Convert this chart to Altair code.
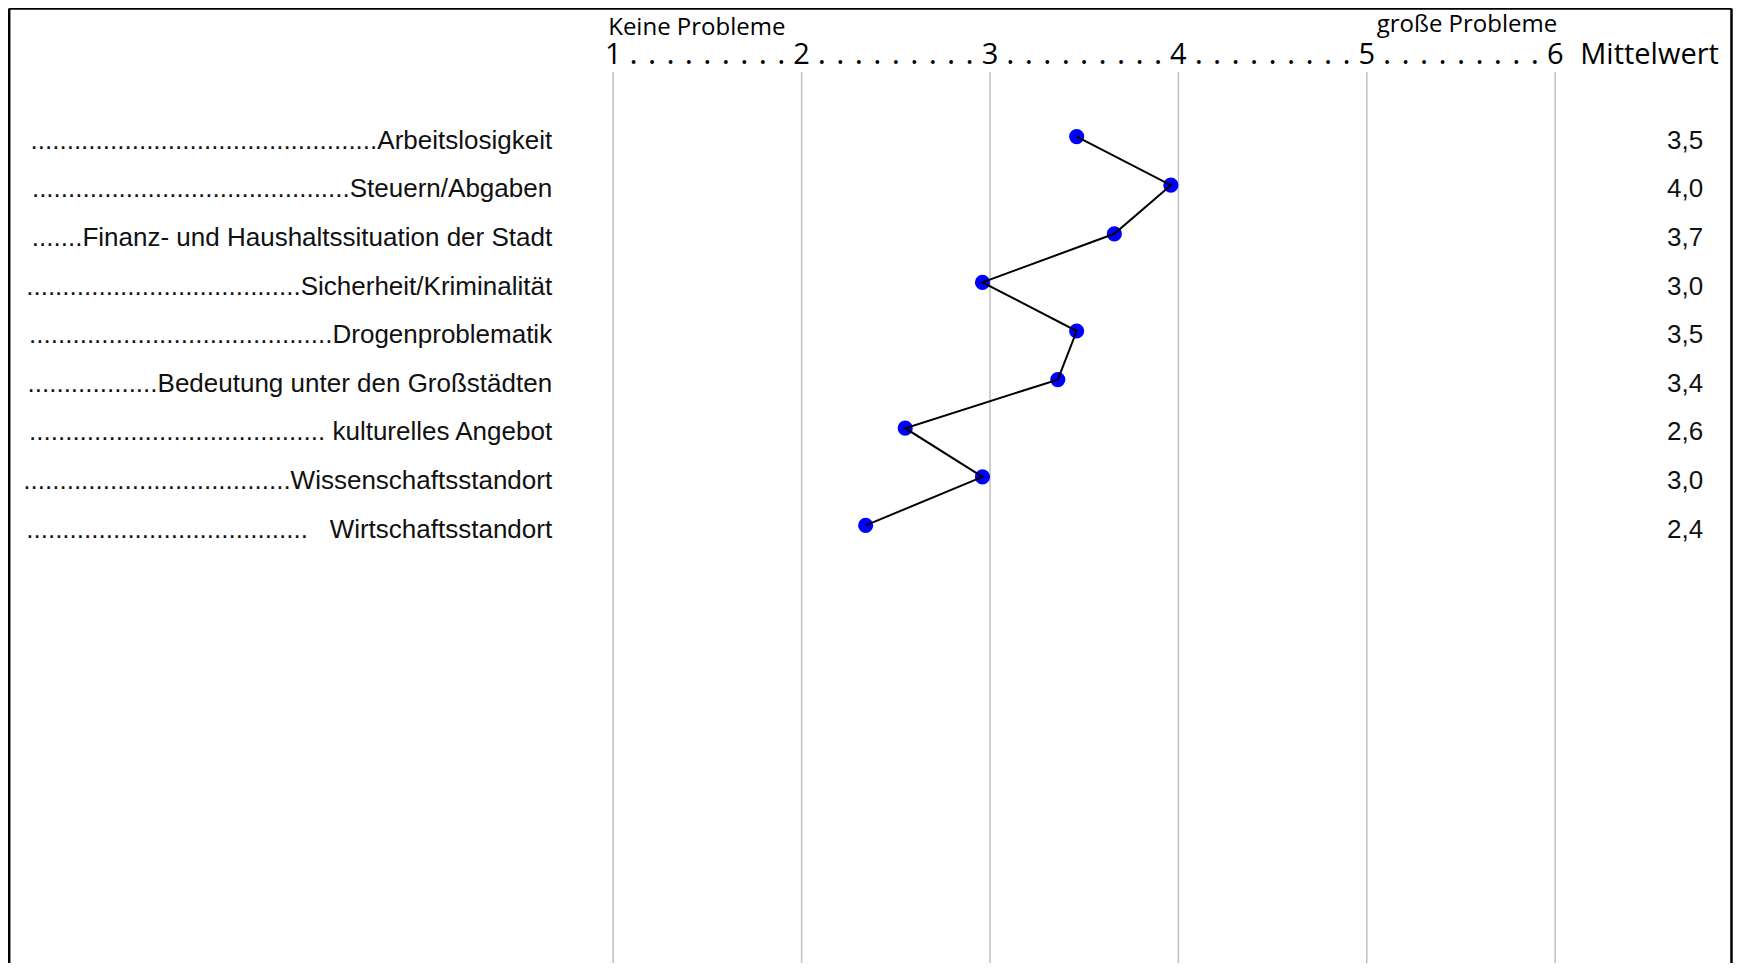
import altair as alt
import pandas as pd

# ---- data ----
kategorien = [
    "." * 48 + "Arbeitslosigkeit",
    "." * 44 + "Steuern/Abgaben",
    "." * 7 + "Finanz- und Haushaltssituation der Stadt",
    "." * 38 + "Sicherheit/Kriminalität",
    "." * 42 + "Drogenproblematik",
    "." * 18 + "Bedeutung unter den Großstädten",
    "." * 41 + " kulturelles Angebot",
    "." * 37 + "Wissenschaftsstandort",
    "." * 39 + "\u00a0\u00a0\u00a0Wirtschaftsstandort\u00a0",
]
mittelwerte = [3.46, 3.96, 3.66, 2.96, 3.46, 3.36, 2.55, 2.96, 2.34]
mittelwert_text = ["3,5", "4,0", "3,7", "3,0", "3,5", "3,4", "2,6", "3,0", "2,4"]

skala_werte = [1, 2, 3, 4, 5, 6]
skala_labels = ["1", "2", "3", "4", "5", "6"]
punkte_text = "\u2004".join(["."] * 9)
kopf_links = "Keine Probleme"
kopf_rechts = "große Probleme"
kopf_spalte = "Mittelwert"

# ---- layout constants (scale units) ----
X_DOM = [-2.2123, 6.9438]
Y_DOM = [-2.646, 17.004]
LABEL_X = 0.676
VALUE_X = 6.786
HEAD_X = 6.133
Y_DIGITS = -1.504
Y_KEINE = -2.09
Y_GROSSE = -2.152
Y_GRID_TOP = -1.329
BORDER_L = -2.2059
BORDER_R = 6.9358
BORDER_T = -2.636

HEAD_FONT = "Open Sans"
BODY_FONT = "Liberation Sans"

xs = alt.Scale(domain=X_DOM, nice=False, zero=False)
ys = alt.Scale(domain=Y_DOM, nice=False, zero=False, reverse=True)

df = pd.DataFrame({
    "idx": list(range(len(kategorien))),
    "kategorie": kategorien,
    "wert": mittelwerte,
    "wert_text": mittelwert_text,
})
ticks = pd.DataFrame({"pos": skala_werte, "txt": skala_labels})
mids = pd.DataFrame({"pos": [(a + b) / 2 for a, b in zip(skala_werte[:-1], skala_werte[1:])],
                     "txt": [punkte_text] * (len(skala_werte) - 1)})
one = pd.DataFrame({"k": [0]})

base = alt.Chart(df)

grid = alt.Chart(ticks).mark_rule(color="#c0c0c0", strokeWidth=1.5).encode(
    x=alt.X("pos:Q", scale=xs, axis=None),
    y=alt.Y(datum=Y_GRID_TOP, type="quantitative", scale=ys, axis=None),
    y2=alt.Y2(datum=Y_DOM[1]),
)

border_l = alt.Chart(one).mark_rule(color="black", strokeWidth=2.5).encode(
    x=alt.X(datum=BORDER_L, type="quantitative", scale=xs, axis=None),
    y=alt.Y(datum=BORDER_T, type="quantitative", scale=ys, axis=None),
    y2=alt.Y2(datum=Y_DOM[1]),
)
border_r = alt.Chart(one).mark_rule(color="black", strokeWidth=2.5).encode(
    x=alt.X(datum=BORDER_R, type="quantitative", scale=xs, axis=None),
    y=alt.Y(datum=BORDER_T, type="quantitative", scale=ys, axis=None),
    y2=alt.Y2(datum=Y_DOM[1]),
)
border_t = alt.Chart(one).mark_rule(color="black", strokeWidth=2.5).encode(
    x=alt.X(datum=BORDER_L, type="quantitative", scale=xs, axis=None),
    x2=alt.X2(datum=BORDER_R),
    y=alt.Y(datum=BORDER_T, type="quantitative", scale=ys, axis=None),
)

digits = alt.Chart(ticks).mark_text(
    font=HEAD_FONT, fontSize=29, fontWeight="normal", align="center",
    baseline="alphabetic", color="black"
).encode(
    x=alt.X("pos:Q", scale=xs, axis=None),
    y=alt.Y(datum=Y_DIGITS, type="quantitative", scale=ys, axis=None),
    text="txt:N",
)
dots = alt.Chart(mids).mark_text(
    font=HEAD_FONT, fontSize=31, fontWeight="normal", align="center",
    baseline="alphabetic", color="black"
).encode(
    x=alt.X("pos:Q", scale=xs, axis=None),
    y=alt.Y(datum=Y_DIGITS, type="quantitative", scale=ys, axis=None),
    text="txt:N",
)

keine = alt.Chart(one).mark_text(
    font=HEAD_FONT, fontSize=24, fontWeight="normal", align="left",
    baseline="alphabetic", color="black", dx=-5, text=kopf_links,
).encode(
    x=alt.X(datum=skala_werte[0], type="quantitative", scale=xs, axis=None),
    y=alt.Y(datum=Y_KEINE, type="quantitative", scale=ys, axis=None),
)
grosse = alt.Chart(one).mark_text(
    font=HEAD_FONT, fontSize=24, fontWeight="normal", align="right",
    baseline="alphabetic", color="black", dx=2, text=kopf_rechts,
).encode(
    x=alt.X(datum=skala_werte[-1], type="quantitative", scale=xs, axis=None),
    y=alt.Y(datum=Y_GROSSE, type="quantitative", scale=ys, axis=None),
)
mittel_head = alt.Chart(one).mark_text(
    font=HEAD_FONT, fontSize=29, fontWeight="normal", align="left",
    baseline="alphabetic", color="black", text=kopf_spalte,
).encode(
    x=alt.X(datum=HEAD_X, type="quantitative", scale=xs, axis=None),
    y=alt.Y(datum=Y_DIGITS, type="quantitative", scale=ys, axis=None),
)

labels = base.mark_text(
    font=BODY_FONT, fontSize=26, align="right", baseline="alphabetic", dy=12.2, color="#111111"
).encode(
    x=alt.X(datum=LABEL_X, type="quantitative", scale=xs, axis=None),
    y=alt.Y("idx:Q", scale=ys, axis=None),
    text="kategorie:N",
)
values = base.mark_text(
    font=BODY_FONT, fontSize=26, align="right", baseline="alphabetic", dy=12.2, color="#111111"
).encode(
    x=alt.X(datum=VALUE_X, type="quantitative", scale=xs, axis=None),
    y=alt.Y("idx:Q", scale=ys, axis=None),
    text="wert_text:N",
)

points = base.mark_circle(size=230, color="#0000FF", opacity=1).encode(
    x=alt.X("wert:Q", scale=xs, axis=None),
    y=alt.Y("idx:Q", scale=ys, axis=None),
)
line = base.mark_line(color="black", strokeWidth=2).encode(
    x=alt.X("wert:Q", scale=xs, axis=None),
    y=alt.Y("idx:Q", scale=ys, axis=None),
    order="idx:Q",
)

chart = alt.layer(
    grid, border_l, border_r, border_t, digits, dots, keine, grosse, mittel_head,
    labels, values, points, line,
).properties(
    width=1725, height=955, padding=0,
    autosize=alt.AutoSizeParams(type="none"),
    background="white",
).configure_view(stroke=None)

chart.save("out.html", embed_options={"renderer": "svg", "actions": False})
